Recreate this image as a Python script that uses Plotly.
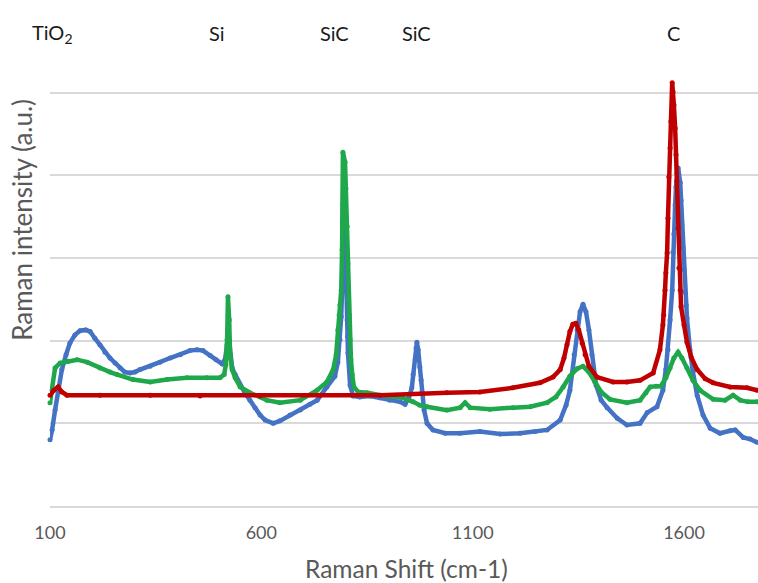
import plotly.graph_objects as go

# Raman spectra of three samples (Raman shift in cm-1, intensity in arbitrary units)
blue_shift = [100, 105, 112, 119, 128, 138, 147, 159, 171, 185, 195, 206, 218, 230, 242, 254, 266, 277, 289, 301,
              313, 337, 360, 384, 408, 431, 448, 462, 479, 493, 507, 514, 519, 521, 524, 526, 531, 538, 550, 561,
              573, 585, 597, 609, 628, 644, 668, 692, 715, 732, 755, 774, 781, 786, 789, 791, 792, 793, 794, 796,
              798, 800, 803, 804, 805, 810, 817, 833, 857, 881, 904, 928, 940, 949, 956, 959, 964, 966, 968, 971,
              975, 978, 980, 985, 992, 1006, 1035, 1070, 1117, 1165, 1212, 1248, 1276, 1307, 1321, 1330, 1340, 1347,
              1354, 1361, 1368, 1375, 1382, 1392, 1404, 1418, 1442, 1465, 1496, 1513, 1536, 1550, 1557, 1562, 1567,
              1572, 1574, 1576, 1579, 1581, 1583, 1586, 1591, 1593, 1595, 1598, 1600, 1602, 1605, 1607, 1614, 1621,
              1631, 1645, 1662, 1685, 1709, 1721, 1740, 1756, 1773]
blue_intensity = [800, 920, 1160, 1400, 1650, 1830, 1970, 2070, 2120, 2130, 2110, 2030, 1950, 1860, 1790, 1730, 1670,
                  1620, 1610, 1620, 1650, 1690, 1740, 1790, 1830, 1880, 1890, 1880, 1820, 1770, 1720, 1770, 1950, 2130,
                  2010, 1830, 1670, 1590, 1460, 1370, 1280, 1190, 1100, 1040, 1000, 1030, 1100, 1160, 1230, 1280, 1440,
                  1570, 1740, 2010, 2290, 2610, 3010, 3650, 4100, 4090, 3340, 2630, 2250, 2050, 1850, 1460, 1330, 1320,
                  1330, 1310, 1280, 1260, 1230, 1310, 1430, 1590, 1770, 1910, 1980, 1890, 1680, 1520, 1380, 1160, 1000,
                  920, 880, 880, 900, 870, 880, 900, 920, 1040, 1220, 1400, 1830, 2130, 2350, 2440, 2350, 2130, 1830,
                  1460, 1280, 1190, 1060, 980, 1000, 1130, 1200, 1400, 1650, 1890, 2250, 2610, 3070, 3290, 3640, 3860,
                  4030, 4090, 3910, 3700, 3400, 3120, 2860, 2590, 2430, 2270, 1890, 1620, 1340, 1100, 940, 880, 910, 920,
                  830, 810, 770]

green_shift = [100, 105, 112, 124, 143, 164, 188, 218, 242, 259, 296, 337, 377, 424, 471, 502, 512, 516, 519, 521,
               524, 526, 531, 538, 550, 573, 613, 644, 692, 732, 755, 770, 777, 781, 784, 786, 789, 791, 792, 793,
               798, 800, 803, 805, 806, 808, 810, 812, 815, 819, 829, 850, 893, 928, 959, 975, 992, 1039, 1070, 1082,
               1094, 1141, 1195, 1236, 1276, 1297, 1314, 1330, 1347, 1361, 1375, 1389, 1404, 1425, 1465, 1496, 1510,
               1520, 1534, 1545, 1557, 1567, 1576, 1586, 1595, 1607, 1621, 1638, 1669, 1697, 1716, 1733, 1751, 1773]
green_intensity = [1250, 1400, 1670, 1730, 1750, 1770, 1740, 1670, 1620, 1590, 1530, 1500, 1530, 1550, 1550, 1550,
                   1590, 1710, 2010, 2530, 2250, 1830, 1650, 1550, 1440, 1370, 1280, 1250, 1280, 1400, 1500, 1650,
                   1830, 2130, 2310, 2430, 2610, 3100, 3440, 4280, 4160, 3840, 3380, 2930, 2500, 2310, 2010, 1770,
                   1590, 1440, 1380, 1370, 1330, 1320, 1260, 1220, 1200, 1160, 1190, 1250, 1190, 1170, 1190, 1200,
                   1250, 1320, 1440, 1570, 1660, 1690, 1620, 1500, 1380, 1290, 1250, 1280, 1370, 1440, 1450, 1450,
                   1550, 1670, 1790, 1860, 1790, 1670, 1520, 1400, 1290, 1280, 1340, 1280, 1260, 1260]

red_shift = [100, 109, 119, 128, 140, 218, 337, 455, 597, 739, 881, 1039, 1117, 1195, 1259, 1290, 1307, 1316, 1323,
             1330, 1337, 1344, 1351, 1359, 1366, 1375, 1394, 1432, 1465, 1496, 1527, 1543, 1550, 1552, 1555, 1557,
             1560, 1562, 1564, 1567, 1569, 1572, 1574, 1576, 1579, 1581, 1583, 1586, 1588, 1591, 1593, 1600, 1607,
             1617, 1631, 1650, 1669, 1709, 1749, 1773]
red_intensity = [1340, 1400, 1440, 1380, 1340, 1340, 1340, 1330, 1330, 1340, 1340, 1370, 1380, 1430, 1490, 1560,
                 1650, 1790, 1950, 2110, 2200, 2210, 2130, 1970, 1830, 1690, 1560, 1500, 1500, 1520, 1610, 1890,
                 2190, 2310, 2610, 2820, 3060, 3480, 3980, 4330, 4650, 5120, 5010, 4850, 4570, 4250, 3930, 3360,
                 2880, 2610, 2410, 2190, 1980, 1800, 1650, 1540, 1490, 1440, 1430, 1400]

# Phase labels placed above the characteristic bands
phase_labels = ["TiO<sub>2</sub>", "Si", "SiC", "SiC", "C"]
phase_shift = [107, 495, 774, 968, 1574]

tick_values = [100, 600, 1100, 1600]
tick_labels = ["100", "600", "1100", "1600"]

FONT = "Lato, 'Open Sans', sans-serif"
GREY_TEXT = "#595959"
GRID = "#d9d9d9"

fig = go.Figure()
for xs, ys, color, name in [
    (blue_shift, blue_intensity, "#4472C4", "Sample 1"),
    (green_shift, green_intensity, "#1EA84B", "Sample 2"),
    (red_shift, red_intensity, "#C00000", "Sample 3"),
]:
    fig.add_trace(go.Scatter(
        x=xs, y=ys, name=name, mode="lines+markers",
        line=dict(color=color, width=4.5),
        marker=dict(color=color, size=5),
        cliponaxis=False, showlegend=False,
    ))

for label, xpos in zip(phase_labels, phase_shift):
    fig.add_annotation(
        x=xpos, y=5720, xref="x", yref="y", text=label, showarrow=False,
        font=dict(family=FONT, size=20, color="#1a1a1a"),
    )

fig.add_annotation(
    x=-0.0395, y=0.577, xref="paper", yref="paper", text="Raman intensity (a.u.)",
    xanchor="center", yanchor="middle",
    textangle=-90, showarrow=False, font=dict(family=FONT, size=26, color=GREY_TEXT),
)
fig.add_annotation(
    x=0.504, y=-0.125, xref="paper", yref="paper", text="Raman Shift (cm-1)",
    xanchor="center", yanchor="middle",
    showarrow=False, font=dict(family=FONT, size=24.5, color=GREY_TEXT),
)

fig.update_layout(
    width=758, height=583,
    margin=dict(l=50, r=0, t=10, b=77),
    paper_bgcolor="white", plot_bgcolor="white",
    font=dict(family=FONT, color=GREY_TEXT),
)
fig.update_xaxes(
    range=[100, 1775], tickvals=tick_values, ticktext=tick_labels,
    showgrid=False, zeroline=False, showline=True, linecolor=GRID, linewidth=2,
    ticks="", ticklabelstandoff=9, tickfont=dict(family=FONT, size=18, color=GREY_TEXT),
)
fig.update_yaxes(
    range=[0, 6000], dtick=1000, showticklabels=False,
    showgrid=True, gridcolor=GRID, gridwidth=2, zeroline=False,
)

fig.write_html("out.html")
